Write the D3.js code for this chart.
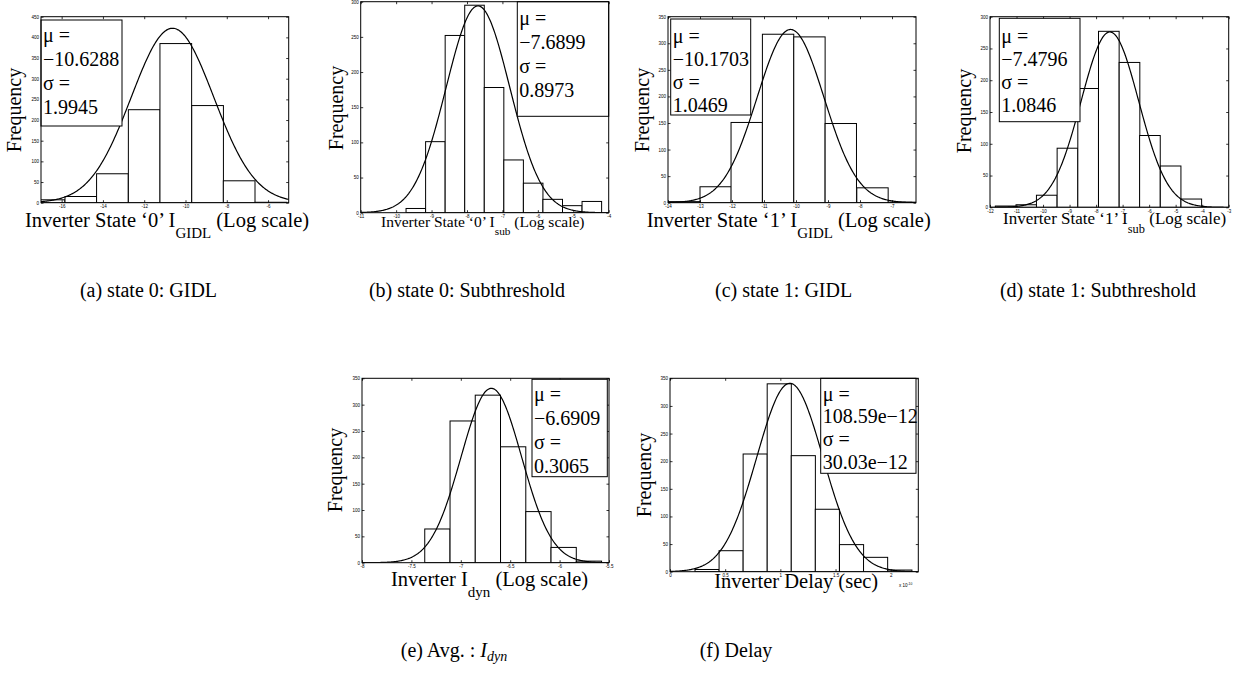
<!DOCTYPE html>
<html>
<head>
<meta charset="utf-8">
<script src="https://cdnjs.cloudflare.com/ajax/libs/d3/7.8.5/d3.min.js"></script>
<style>
body{margin:0;background:#fff;}
svg{display:block;}
.tickText{font-family:"Liberation Sans",Arial,sans-serif;font-size:4.5px;fill:#000;}
.serif{font-family:"Liberation Serif","Times New Roman",serif;fill:#000;}
.bar{fill:#fff;stroke:#000;stroke-width:1;}
.fit{fill:none;stroke:#000;stroke-width:1.2;}
.frame{fill:none;stroke:#000;stroke-width:1;}
.infoBox{fill:#fff;stroke:#000;stroke-width:1;}
</style>
</head>
<body>
<script>
//histogram data: bin centres, bin width and counts
var gidl0Centers = [-16.61, -15.07, -13.54, -12.00, -10.47, -8.93, -7.40, -5.86];
var gidl0Counts = [7, 15, 70, 225, 385, 235, 53, 1];
var gidl0BinWidth = 1.535;

var sub0Centers = [-9.444, -8.892, -8.340, -7.788, -7.236, -6.684, -6.132, -5.580, -5.028, -4.476];
var sub0Counts = [6, 101, 252, 295, 178, 75, 42, 19, 10, 16];
var sub0BinWidth = 0.552;

var gidl1Centers = [-13.49, -12.51, -11.54, -10.56, -9.58, -8.60, -7.61, -6.63];
var gidl1Counts = [2, 30, 151, 317, 312, 149, 28, 1];
var gidl1BinWidth = 0.98;

var sub1Centers = [-11.41, -10.63, -9.86, -9.08, -8.30, -7.52, -6.74, -5.97, -5.19, -4.41];
var sub1Counts = [2, 4, 19, 93, 187, 277, 228, 113, 65, 13];
var sub1BinWidth = 0.778;

var dynCenters = [-7.237, -6.981, -6.726, -6.470, -6.214, -5.959, -5.703];
var dynCounts = [64, 269, 318, 220, 97, 29, 3];
var dynBinWidth = 0.2557;

//delay in units of 1e-10 s
var delayCenters = [0.336, 0.554, 0.772, 0.990, 1.208, 1.426, 1.645, 1.863, 2.083];
var delayCounts = [4, 38, 213, 340, 210, 113, 49, 26, 3];
var delayBinWidth = 0.2186;

//normal fit: mean, std and the peak height drawn
var gidl0Fit = {mu: -10.6288, sigma: 1.9945, peak: 422};
var sub0Fit = {mu: -7.6899, sigma: 0.8973, peak: 294};
var gidl1Fit = {mu: -10.1703, sigma: 1.0469, peak: 326};
var sub1Fit = {mu: -7.4796, sigma: 1.0846, peak: 276};
var dynFit = {mu: -6.6909, sigma: 0.3065, peak: 331};
var delayFit = {mu: 1.0859, sigma: 0.3003, peak: 341};

//text in the boxes
var gidl0Info = ["\u03bc =", "\u221210.6288", "\u03c3 =", "1.9945"];
var sub0Info = ["\u03bc =", "\u22127.6899", "\u03c3 =", "0.8973"];
var gidl1Info = ["\u03bc =", "\u221210.1703", "\u03c3 =", "1.0469"];
var sub1Info = ["\u03bc =", "\u22127.4796", "\u03c3 =", "1.0846"];
var dynInfo = ["\u03bc =", "\u22126.6909", "\u03c3 =", "0.3065"];
var delayInfo = ["\u03bc =", "108.59e\u221212", "\u03c3 =", "30.03e\u221212"];

//tick values
var gidl0XTicks = [-16, -14, -12, -10, -8, -6];
var sub0XTicks = [-11, -10, -9, -8, -7, -6, -5, -4];
var gidl1XTicks = [-14, -13, -12, -11, -10, -9, -8, -7];
var sub1XTicks = [-12, -11, -10, -9, -8, -7, -6, -5, -4, -3];
var dynXTicks = [-8, -7.5, -7, -6.5, -6, -5.5];
var delayXTicks = [0, 0.5, 1, 1.5, 2];
var yTicks300 = [0, 50, 100, 150, 200, 250, 300];
var yTicks350 = [0, 50, 100, 150, 200, 250, 300, 350];
var yTicks450 = [0, 50, 100, 150, 200, 250, 300, 350, 400, 450];

//axis labels [text, subscript, rest] and captions
var gidl0Label = ["Inverter State \u20180\u2019 I", "GIDL", " (Log scale)"];
var sub0Label = ["Inverter State \u20180\u2019 I", "sub", " (Log scale)"];
var gidl1Label = ["Inverter State \u20181\u2019 I", "GIDL", " (Log scale)"];
var sub1Label = ["Inverter State \u20181\u2019 I", "sub", " (Log scale)"];
var dynLabel = ["Inverter I", "dyn", " (Log scale)"];
var delayLabel = ["Inverter Delay (sec)", "", ""];
var captions = ["(a) state 0: GIDL", "(b) state 0: Subthreshold", "(c) state 1: GIDL",
    "(d) state 1: Subthreshold", "(e) Avg. : ", "(f) Delay"];

//begin script
setFigure();

function setFigure(){
    var svg = d3.select("body")
        .append("svg")
        .attr("width", 1246)
        .attr("height", 673);

    svg.append("rect")
        .attr("width", 1246)
        .attr("height", 673)
        .attr("fill", "#fff");

    //panel table: data + where each panel sits on the page
    var panels = [
        {centers: gidl0Centers, counts: gidl0Counts, bw: gidl0BinWidth, fit: gidl0Fit, info: gidl0Info,
         xTicks: gidl0XTicks, yTicks: yTicks450, xDomain: [-17, -5], label: gidl0Label,
         box: [41, 16.7, 288.7, 202.7], infoBox: [41, 20, 81, 106], infoY: 41.7, infoStep: 24,
         labelX: 25, labelY: 226.5, labelSize: 20.5, freq: [16.7, 110], caption: [148.5, 297]},
        {centers: sub0Centers, counts: sub0Counts, bw: sub0BinWidth, fit: sub0Fit, info: sub0Info,
         xTicks: sub0XTicks, yTicks: yTicks300, xDomain: [-11, -4], label: sub0Label,
         box: [360.7, 1.7, 608.7, 212.7], infoBox: [517.3, 1.7, 91.4, 114.6], infoY: 25, infoStep: 24,
         labelX: 381, labelY: 226.5, labelSize: 15.5, freq: [338.3, 108], caption: [467, 297]},
        {centers: gidl1Centers, counts: gidl1Counts, bw: gidl1BinWidth, fit: gidl1Fit, info: gidl1Info,
         xTicks: gidl1XTicks, yTicks: yTicks350, xDomain: [-14, -6.25], label: gidl1Label,
         box: [668, 16.7, 916, 202.7], infoBox: [670.7, 19, 80, 96], infoY: 43, infoStep: 22.9,
         labelX: 646.7, labelY: 226.5, labelSize: 20.5, freq: [645, 110], caption: [783.6, 297]},
        {centers: sub1Centers, counts: sub1Counts, bw: sub1BinWidth, fit: sub1Fit, info: sub1Info,
         xTicks: sub1XTicks, yTicks: yTicks300, xDomain: [-12, -3], label: sub1Label,
         box: [990, 16.7, 1228.7, 207.3], infoBox: [999.3, 18.3, 80.7, 103.4], infoY: 43, infoStep: 22.9,
         labelX: 1003, labelY: 224, labelSize: 17, freq: [966.7, 111], caption: [1098, 297]},
        {centers: dynCenters, counts: dynCounts, bw: dynBinWidth, fit: dynFit, info: dynInfo,
         xTicks: dynXTicks, yTicks: yTicks350, xDomain: [-8, -5.5], label: dynLabel,
         box: [362, 378.3, 609, 562.7], infoBox: [532, 379.3, 75.3, 97.4], infoY: 400.8, infoStep: 24.2,
         labelX: 391, labelY: 586, labelSize: 20.5, freq: [337.3, 470], caption: [454, 657]},
        {centers: delayCenters, counts: delayCounts, bw: delayBinWidth, fit: delayFit, info: delayInfo,
         xTicks: delayXTicks, yTicks: yTicks350, xDomain: [0, 2.25], label: delayLabel,
         box: [670, 378.3, 918.3, 571.7], infoBox: [820.7, 378.3, 95.3, 95], infoY: 400.8, infoStep: 22.6,
         labelX: 714.3, labelY: 588, labelSize: 20.5, freq: [646.7, 475], caption: [736, 657]}
    ];

    panels.forEach(function(p, i){
        drawPanel(svg, p, i);
    });

    //exponent for the delay axis
    var expo = svg.append("text")
        .attr("class", "tickText")
        .attr("x", 899)
        .attr("y", 587);
    expo.append("tspan").text("x 10");
    expo.append("tspan")
        .attr("dy", -1.8)
        .style("font-size", "3.3px")
        .text("-10");

    //captions
    panels.forEach(function(p, i){
        var cap = svg.append("text")
            .attr("class", "serif")
            .attr("x", p.caption[0])
            .attr("y", p.caption[1])
            .attr("text-anchor", "middle")
            .style("font-size", "20px");
        cap.append("tspan").text(captions[i]);
        if (i == 4){
            cap.append("tspan").style("font-style", "italic").text("I");
            cap.append("tspan")
                .attr("dy", 4)
                .style("font-style", "italic")
                .style("font-size", "14px")
                .text("dyn");
        };
    });
};

//plain tick labels like the original: -16, 0.5, 1
function tickLabel(d){
    return String(d);
};

function drawPanel(svg, p, i){
    var left = p.box[0], top = p.box[1], right = p.box[2], bottom = p.box[3];

    var x = d3.scaleLinear()
        .domain(p.xDomain)
        .range([left, right]);

    var y = d3.scaleLinear()
        .domain([0, p.yTicks[p.yTicks.length - 1]])
        .range([bottom, top]);

    //clip to plot area
    svg.append("clipPath")
        .attr("id", "clip" + i)
        .append("rect")
        .attr("x", left)
        .attr("y", top)
        .attr("width", right - left)
        .attr("height", bottom - top);

    var plot = svg.append("g")
        .attr("clip-path", "url(#clip" + i + ")");

    //bars
    plot.selectAll(".bar")
        .data(p.centers)
        .enter()
        .append("rect")
        .attr("class", "bar")
        .attr("x", function(d){ return x(d - p.bw / 2); })
        .attr("width", function(d){ return x(d + p.bw / 2) - x(d - p.bw / 2); })
        .attr("y", function(d, j){ return y(p.counts[j]); })
        .attr("height", function(d, j){ return y(0) - y(p.counts[j]); });

    //normal fit curve from mu / sigma
    var xs = d3.range(p.xDomain[0], p.xDomain[1], (p.xDomain[1] - p.xDomain[0]) / 300).concat([p.xDomain[1]]);
    var line = d3.line()
        .x(function(d){ return x(d); })
        .y(function(d){
            var z = (d - p.fit.mu) / p.fit.sigma;
            return y(p.fit.peak * Math.exp(-0.5 * z * z));
        });

    plot.append("path")
        .datum(xs)
        .attr("class", "fit")
        .attr("d", line);

    //axes with inward ticks on all sides
    var bottomAxis = svg.append("g")
        .attr("transform", "translate(0," + bottom + ")")
        .call(d3.axisBottom(x).tickValues(p.xTicks).tickSize(-2.5).tickSizeOuter(0).tickPadding(2.5).tickFormat(tickLabel));
    var topAxis = svg.append("g")
        .attr("transform", "translate(0," + top + ")")
        .call(d3.axisTop(x).tickValues(p.xTicks).tickSize(-2.5).tickSizeOuter(0).tickFormat(""));
    var leftAxis = svg.append("g")
        .attr("transform", "translate(" + left + ",0)")
        .call(d3.axisLeft(y).tickValues(p.yTicks).tickSize(-2.5).tickSizeOuter(0).tickPadding(2).tickFormat(tickLabel));
    var rightAxis = svg.append("g")
        .attr("transform", "translate(" + right + ",0)")
        .call(d3.axisRight(y).tickValues(p.yTicks).tickSize(-2.5).tickSizeOuter(0).tickFormat(""));

    [bottomAxis, topAxis, leftAxis, rightAxis].forEach(function(a){
        a.select(".domain").remove();
        a.attr("font-size", null).attr("font-family", null);
        a.selectAll("text").attr("class", "tickText");
        a.selectAll("line").attr("stroke", "#000").attr("stroke-width", 0.8);
    });

    //info box
    svg.append("rect")
        .attr("class", "infoBox")
        .attr("x", p.infoBox[0])
        .attr("y", p.infoBox[1])
        .attr("width", p.infoBox[2])
        .attr("height", p.infoBox[3]);

    svg.selectAll(".info" + i)
        .data(p.info)
        .enter()
        .append("text")
        .attr("class", "serif info" + i)
        .attr("x", p.infoBox[0] + 2)
        .attr("y", function(d, j){ return p.infoY + j * p.infoStep; })
        .style("font-size", "20px")
        .text(function(d){ return d; });

    //frame
    svg.append("rect")
        .attr("class", "frame")
        .attr("x", left)
        .attr("y", top)
        .attr("width", right - left)
        .attr("height", bottom - top);

    //x label with subscript
    var lab = svg.append("text")
        .attr("class", "serif")
        .attr("x", p.labelX)
        .attr("y", p.labelY)
        .style("font-size", p.labelSize + "px");
    lab.append("tspan").text(p.label[0]);
    if (p.label[1] != ""){
        lab.append("tspan")
            .attr("dy", p.labelSize * 0.55)
            .style("font-size", (p.labelSize * 0.73) + "px")
            .text(p.label[1]);
        lab.append("tspan")
            .attr("dy", -p.labelSize * 0.55)
            .text(p.label[2]);
    };

    //y label
    svg.append("text")
        .attr("class", "serif")
        .attr("text-anchor", "middle")
        .attr("transform", "translate(" + (p.freq[0] + 4.4) + "," + p.freq[1] + ") rotate(-90)")
        .style("font-size", "20px")
        .text("Frequency");
};
</script>
</body>
</html>
